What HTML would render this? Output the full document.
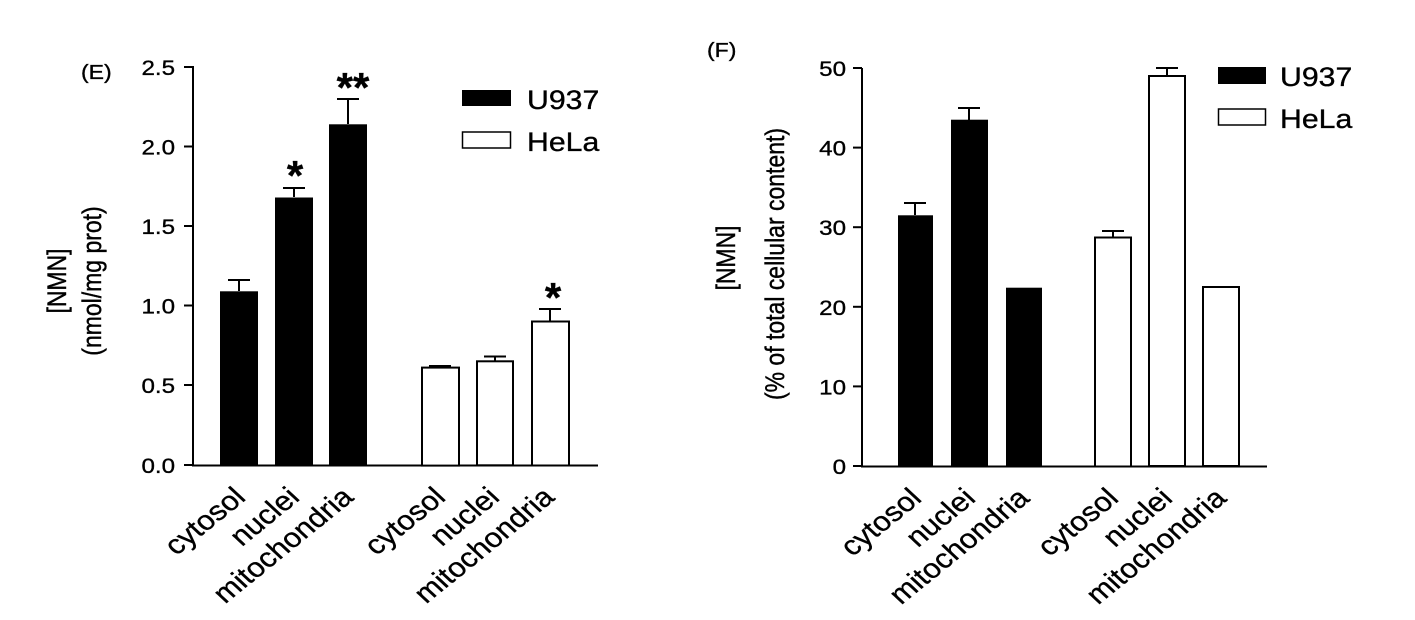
<!DOCTYPE html>
<html><head><meta charset="utf-8"><style>
html,body{margin:0;padding:0;background:#fff;}
svg{display:block;font-family:"Liberation Sans",Arial,sans-serif;}
text{stroke:#000;stroke-width:0.35;}
</style></head><body>
<svg width="1415" height="620" viewBox="0 0 1415 620" xmlns="http://www.w3.org/2000/svg">
<g stroke="#000" stroke-width="2" fill="none">
<line x1="193" y1="66" x2="193" y2="466"/>
<line x1="192" y1="465.5" x2="598" y2="465.5"/>
<line x1="184" y1="67" x2="193" y2="67"/>
<line x1="184" y1="146.5" x2="193" y2="146.5"/>
<line x1="184" y1="226" x2="193" y2="226"/>
<line x1="184" y1="305.5" x2="193" y2="305.5"/>
<line x1="184" y1="385" x2="193" y2="385"/>
<line x1="184" y1="465" x2="193" y2="465"/>
<line x1="862" y1="68" x2="862" y2="467"/>
<line x1="861" y1="466.5" x2="1267" y2="466.5"/>
<line x1="853" y1="68" x2="862" y2="68"/>
<line x1="853" y1="147.6" x2="862" y2="147.6"/>
<line x1="853" y1="227.2" x2="862" y2="227.2"/>
<line x1="853" y1="306.8" x2="862" y2="306.8"/>
<line x1="853" y1="386.4" x2="862" y2="386.4"/>
<line x1="853" y1="466" x2="862" y2="466"/>
<path d="M239 291V280M228 280H250"/>
<path d="M294 197V188M283 188H305"/>
<path d="M348 124V99M337 99H359"/>
<path d="M440 367V366M429 366H451"/>
<path d="M495 361V356.5M484 356.5H506"/>
<path d="M550 321V309M539 309H561"/>
<path d="M915 215V203M904 203H926"/>
<path d="M969 120V108M958 108H980"/>
<path d="M1113 237V231M1102 231H1124"/>
<path d="M1167 76V68M1156 68H1178"/>
</g>
<rect x="220" y="291.3" width="38" height="174" fill="#000"/>
<rect x="275" y="197.5" width="38" height="268" fill="#000"/>
<rect x="329" y="124.3" width="38" height="341" fill="#000"/>
<rect x="422" y="367.6" width="37" height="98" fill="#fff" stroke="#000" stroke-width="2"/>
<rect x="477" y="361.3" width="36" height="104" fill="#fff" stroke="#000" stroke-width="2"/>
<rect x="532" y="321.5" width="37" height="144" fill="#fff" stroke="#000" stroke-width="2"/>
<rect x="898" y="215.3" width="35" height="251" fill="#000"/>
<rect x="951" y="119.7" width="37" height="347" fill="#000"/>
<rect x="1006" y="287.7" width="36" height="179" fill="#000"/>
<rect x="1095" y="237.5" width="36" height="229" fill="#fff" stroke="#000" stroke-width="2"/>
<rect x="1149" y="76" width="36" height="390" fill="#fff" stroke="#000" stroke-width="2"/>
<rect x="1203" y="287" width="36" height="179" fill="#fff" stroke="#000" stroke-width="2"/>
<g font-size="21" text-anchor="end" fill="#000">
<text transform="translate(175,75) scale(1.15,1)">2.5</text>
<text transform="translate(175,154.5) scale(1.15,1)">2.0</text>
<text transform="translate(175,234) scale(1.15,1)">1.5</text>
<text transform="translate(175,313.5) scale(1.15,1)">1.0</text>
<text transform="translate(175,393) scale(1.15,1)">0.5</text>
<text transform="translate(175,473) scale(1.15,1)">0.0</text>
<text transform="translate(846,76) scale(1.15,1)">50</text>
<text transform="translate(846,155.6) scale(1.15,1)">40</text>
<text transform="translate(846,235.2) scale(1.15,1)">30</text>
<text transform="translate(846,314.8) scale(1.15,1)">20</text>
<text transform="translate(846,394.4) scale(1.15,1)">10</text>
<text transform="translate(846,474) scale(1.15,1)">0</text>
</g>
<text transform="translate(81,79) scale(1.15,1)" font-size="20">(E)</text>
<text transform="translate(707,57) scale(1.15,1)" font-size="20">(F)</text>
<g font-size="23" text-anchor="middle">
<text transform="translate(66,281) scale(1.15,1) rotate(-90)">[NMN]</text>
<text transform="translate(101,281) scale(1.15,1) rotate(-90)">(nmol/mg prot)</text>
<text transform="translate(735,258) scale(1.15,1) rotate(-90)">[NMN]</text>
<text transform="translate(784,264) scale(1.15,1) rotate(-90)">(% of total cellular content)</text>
</g>
<rect x="462" y="90" width="49" height="16" fill="#000"/>
<rect x="462.5" y="132" width="48" height="16" fill="#fff" stroke="#000" stroke-width="1.5"/>
<text transform="translate(527,109) scale(1.12,1)" font-size="27">U937</text>
<text transform="translate(527,151) scale(1.12,1)" font-size="27">HeLa</text>
<rect x="1218" y="67" width="48" height="17" fill="#000"/>
<rect x="1218.5" y="109" width="47" height="16" fill="#fff" stroke="#000" stroke-width="1.5"/>
<text transform="translate(1280,86) scale(1.12,1)" font-size="27">U937</text>
<text transform="translate(1280,128) scale(1.12,1)" font-size="27">HeLa</text>
<g font-size="42" font-weight="bold" text-anchor="middle">
<text x="295" y="190">*</text>
<text x="353" y="102">**</text>
<text x="553" y="312">*</text>
</g>
<g font-size="27" text-anchor="end">
<text transform="translate(247,499) scale(1.15,1) rotate(-43)">cytosol</text>
<text transform="translate(301,499) scale(1.15,1) rotate(-43)">nuclei</text>
<text transform="translate(355,499) scale(1.15,1) rotate(-43)">mitochondria</text>
<text transform="translate(447,499) scale(1.15,1) rotate(-43)">cytosol</text>
<text transform="translate(501,499) scale(1.15,1) rotate(-43)">nuclei</text>
<text transform="translate(556,499) scale(1.15,1) rotate(-43)">mitochondria</text>
<text transform="translate(923,500) scale(1.15,1) rotate(-43)">cytosol</text>
<text transform="translate(977,500) scale(1.15,1) rotate(-43)">nuclei</text>
<text transform="translate(1031,500) scale(1.15,1) rotate(-43)">mitochondria</text>
<text transform="translate(1120,500) scale(1.15,1) rotate(-43)">cytosol</text>
<text transform="translate(1174,500) scale(1.15,1) rotate(-43)">nuclei</text>
<text transform="translate(1228,500) scale(1.15,1) rotate(-43)">mitochondria</text>
</g>
</svg>
</body></html>
